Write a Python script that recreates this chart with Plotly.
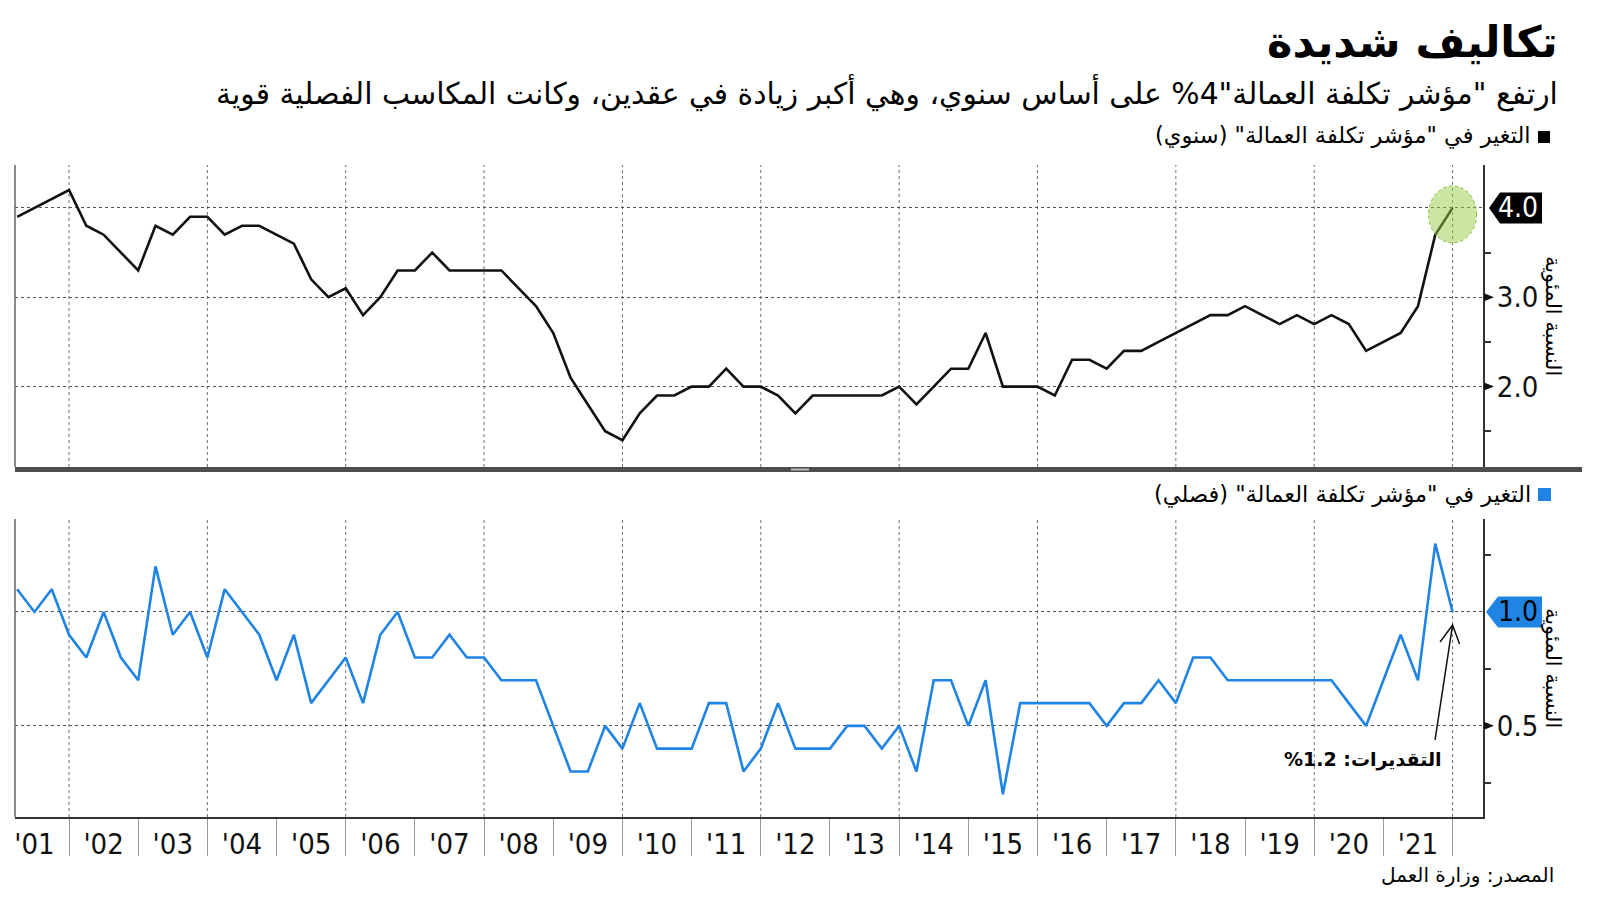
import plotly.graph_objects as go

# ---------------- data ----------------
quarters = [f"{y}Q{q}" for y in range(2001, 2022) for q in range(1, 5)]

annual = [
    3.9, 4.0, 4.1, 4.2,   # 2001
    3.8, 3.7, 3.5, 3.3,   # 2002
    3.8, 3.7, 3.9, 3.9,   # 2003
    3.7, 3.8, 3.8, 3.7,   # 2004
    3.6, 3.2, 3.0, 3.1,   # 2005
    2.8, 3.0, 3.3, 3.3,   # 2006
    3.5, 3.3, 3.3, 3.3,   # 2007
    3.3, 3.1, 2.9, 2.6,   # 2008
    2.1, 1.8, 1.5, 1.4,   # 2009
    1.7, 1.9, 1.9, 2.0,   # 2010
    2.0, 2.2, 2.0, 2.0,   # 2011
    1.9, 1.7, 1.9, 1.9,   # 2012
    1.9, 1.9, 1.9, 2.0,   # 2013
    1.8, 2.0, 2.2, 2.2,   # 2014
    2.6, 2.0, 2.0, 2.0,   # 2015
    1.9, 2.3, 2.3, 2.2,   # 2016
    2.4, 2.4, 2.5, 2.6,   # 2017
    2.7, 2.8, 2.8, 2.9,   # 2018
    2.8, 2.7, 2.8, 2.7,   # 2019
    2.8, 2.7, 2.4, 2.5,   # 2020
    2.6, 2.9, 3.7, 4.0,   # 2021
]

quarterly = [
    1.1, 1.0, 1.1, 0.9,   # 2001
    0.8, 1.0, 0.8, 0.7,   # 2002
    1.2, 0.9, 1.0, 0.8,   # 2003
    1.1, 1.0, 0.9, 0.7,   # 2004
    0.9, 0.6, 0.7, 0.8,   # 2005
    0.6, 0.9, 1.0, 0.8,   # 2006
    0.8, 0.9, 0.8, 0.8,   # 2007
    0.7, 0.7, 0.7, 0.5,   # 2008
    0.3, 0.3, 0.5, 0.4,   # 2009
    0.6, 0.4, 0.4, 0.4,   # 2010
    0.6, 0.6, 0.3, 0.4,   # 2011
    0.6, 0.4, 0.4, 0.4,   # 2012
    0.5, 0.5, 0.4, 0.5,   # 2013
    0.3, 0.7, 0.7, 0.5,   # 2014
    0.7, 0.2, 0.6, 0.6,   # 2015
    0.6, 0.6, 0.6, 0.5,   # 2016
    0.6, 0.6, 0.7, 0.6,   # 2017
    0.8, 0.8, 0.7, 0.7,   # 2018
    0.7, 0.7, 0.7, 0.7,   # 2019
    0.7, 0.6, 0.5, 0.7,   # 2020
    0.9, 0.7, 1.3, 1.0,   # 2021
]

year_labels = ["'01", "'02", "'03", "'04", "'05", "'06", "'07", "'08", "'09", "'10",
               "'11", "'12", "'13", "'14", "'15", "'16", "'17", "'18", "'19", "'20", "'21"]
label_years = list(range(2001, 2022))
top_ticks = [2.0, 3.0, 4.0]
top_ticktext = ["2.0", "3.0", ""]
bot_ticks = [0.5, 1.0]
bot_ticktext = ["0.5", ""]
last_annual_label = "4.0"
last_quarterly_label = "1.0"

title = "تكاليف شديدة"
subtitle = 'ارتفع "مؤشر تكلفة العمالة"4% على أساس سنوي، وهي أكبر زيادة في عقدين، وكانت المكاسب الفصلية قوية'
legend_annual = 'التغير في "مؤشر تكلفة العمالة" (سنوي)'
legend_quarterly = 'التغير في "مؤشر تكلفة العمالة" (فصلي)'
ytitle = "النسبة المئوية"
estimate_note = "التقديرات: 1.2%"
source = "المصدر: وزارة العمل"

# quarter-end positions on a fractional-year axis
xq = [int(q[:4]) + int(q[-1]) / 4 for q in quarters]

# ---------------- helpers ----------------
W, H = 1600, 901
OFF = 8  # page body margin
def px(x):
    return (x - OFF) / W
def py(y):
    return 1 - (y - OFF) / H
def rtl(s):
    return "\u202b" + s + "\u202c"

BLACK = "#111111"
BLUE = "#1f84e4"
AR = "DejaVu Sans"
NUM = "DejaVu Sans Condensed, DejaVu Sans"

AX_X = 1483  # right axis pixel

fig = go.Figure()
fig.add_trace(go.Scatter(x=xq, y=annual, mode="lines", xaxis="x2", yaxis="y2",
                         line=dict(color=BLACK, width=2.6), hoverinfo="skip"))
fig.add_trace(go.Scatter(x=xq, y=quarterly, mode="lines", xaxis="x", yaxis="y",
                         line=dict(color=BLUE, width=2.6), hoverinfo="skip"))

xrange = [2001.219, 2022.44]
xdom = [px(15), px(AX_X)]

fig.update_layout(
    width=W, height=H, margin=dict(l=0, r=0, t=0, b=0),
    paper_bgcolor="white", plot_bgcolor="white", showlegend=False,
    xaxis=dict(domain=xdom, range=xrange, anchor="y",
               tickmode="array", tickvals=[y + 0.5 for y in label_years], ticktext=year_labels,
               ticks="", showgrid=False, zeroline=False,
               showline=True, linecolor="#333333", linewidth=2,
               tickfont=dict(family=NUM, size=29, color=BLACK),
               minor=dict(tickmode="array", tickvals=label_years + [2022],
                          ticks="outside", ticklen=37, tickwidth=1, tickcolor="#9a9a9a",
                          showgrid=False)),
    xaxis2=dict(domain=xdom, range=xrange, anchor="y2", matches="x",
                showticklabels=False, ticks="", showgrid=False, zeroline=False, showline=False),
    yaxis=dict(domain=[py(817), py(519)], range=[0.10, 1.408], anchor="x", side="right",
               tickmode="array", tickvals=bot_ticks, ticktext=bot_ticktext, ticks="",
               ticklabelstandoff=6,
               showgrid=True, gridcolor="#555555", gridwidth=1, griddash="dot",
               zeroline=False, showline=True, linecolor="#333333", linewidth=2,
               tickfont=dict(family=NUM, size=29, color=BLACK),
               minor=dict(tickmode="array", tickvals=[0.25, 0.75, 1.25], ticks="outside",
                          ticklen=6, tickwidth=1.5, tickcolor="#333333", showgrid=False)),
    yaxis2=dict(domain=[py(467), py(165)], range=[1.10, 4.48], anchor="x2", side="right",
                tickmode="array", tickvals=top_ticks, ticktext=top_ticktext, ticks="",
                ticklabelstandoff=6,
                showgrid=True, gridcolor="#555555", gridwidth=1, griddash="dot",
                zeroline=False, showline=True, linecolor="#333333", linewidth=2,
                tickfont=dict(family=NUM, size=29, color=BLACK),
                minor=dict(tickmode="array", tickvals=[1.5, 2.5, 3.5], ticks="outside",
                           ticklen=6, tickwidth=1.5, tickcolor="#333333", showgrid=False)),
)

shapes = []
# vertical dashed gridlines every two years
for yr in range(2002, 2023, 2):
    for xr, yr_ref in (("x", "y domain"), ("x2", "y2 domain")):
        shapes.append(dict(type="line", xref=xr, yref=yr_ref, x0=yr, x1=yr, y0=0, y1=1,
                           line=dict(color="#707070", width=1, dash="3px,3px"), layer="below"))
# left axis lines
for yr_ref in ("y domain", "y2 domain"):
    shapes.append(dict(type="line", xref="paper", yref=yr_ref, x0=px(15), x1=px(15), y0=0, y1=1,
                       line=dict(color="#666666", width=1.5)))
# separator bar between panels
shapes.append(dict(type="rect", xref="paper", yref="paper", x0=px(15), x1=px(1582),
                   y0=py(472), y1=py(467), fillcolor="#4d4d4d", line=dict(width=0)))
shapes.append(dict(type="rect", xref="paper", yref="paper", x0=px(791), x1=px(809),
                   y0=py(470.5), y1=py(468.5), fillcolor="#bdbdbd", line=dict(width=0)))
# tick pointer triangles
for val, yref in ((2.0, "y2"), (3.0, "y2"), (0.5, "y")):
    shapes.append(dict(type="path", xref="paper", yref=yref, xsizemode="pixel", ysizemode="pixel",
                       xanchor=px(AX_X), yanchor=val, path="M 1,4 L 1,-4 L 11,0 Z",
                       fillcolor=BLACK, line=dict(width=0)))
# value flags
shapes.append(dict(type="path", xref="paper", yref="y2", xsizemode="pixel", ysizemode="pixel",
                   xanchor=px(AX_X), yanchor=annual[-1],
                   path="M 6,0 L 17,15.5 L 59,15.5 L 59,-15.5 L 17,-15.5 Z",
                   fillcolor="#000000", line=dict(width=0)))
shapes.append(dict(type="path", xref="paper", yref="y", xsizemode="pixel", ysizemode="pixel",
                   xanchor=px(AX_X), yanchor=quarterly[-1],
                   path="M 3,0 L 15,15.5 L 59,15.5 L 59,-15.5 L 15,-15.5 Z",
                   fillcolor=BLUE, line=dict(width=0)))
# highlight circle around the last annual value
shapes.append(dict(type="circle", xref="x2", yref="y2", xsizemode="pixel", ysizemode="pixel",
                   xanchor=xq[-1], yanchor=annual[-1], x0=-24, x1=24, y0=-35, y1=22,
                   fillcolor="rgba(150,205,70,0.5)",
                   line=dict(color="rgba(120,180,40,0.9)", width=1, dash="dot"), layer="above"))
# estimate arrow
shapes.append(dict(type="path", xref="x", yref="y", xsizemode="pixel", ysizemode="pixel",
                   xanchor=xq[-1], yanchor=quarterly[-1],
                   path="M -17.5,-128 L 0,-13 M -12.5,-30 L 0,-13 L 7,-32",
                   line=dict(color=BLACK, width=1.5)))
# legend squares
shapes.append(dict(type="rect", xref="paper", yref="paper", x0=px(1538), x1=px(1550),
                   y0=py(143), y1=py(131), fillcolor="#000000", line=dict(width=0)))
shapes.append(dict(type="rect", xref="paper", yref="paper", x0=px(1538), x1=px(1551),
                   y0=py(501), y1=py(488), fillcolor=BLUE, line=dict(width=0)))
fig.update_layout(shapes=shapes)

ann = []
ann.append(dict(text=rtl(title), x=px(1560), y=py(42), xref="paper", yref="paper",
                xanchor="right", yanchor="middle", showarrow=False,
                font=dict(family=AR, size=43, color="#000000", weight="bold")))
ann.append(dict(text=rtl(subtitle), x=px(1560), y=py(93), xref="paper", yref="paper",
                xanchor="right", yanchor="middle", showarrow=False,
                font=dict(family=AR, size=29.8, color="#000000")))
ann.append(dict(text=rtl(legend_annual), x=px(1533), y=py(136), xref="paper", yref="paper",
                xanchor="right", yanchor="middle", showarrow=False,
                font=dict(family=AR, size=22.5, color="#000000")))
ann.append(dict(text=rtl(legend_quarterly), x=px(1533), y=py(494), xref="paper", yref="paper",
                xanchor="right", yanchor="middle", showarrow=False,
                font=dict(family=AR, size=22.5, color="#000000")))
for yc in (316, 668):
    ann.append(dict(text=rtl(ytitle), x=px(1553), y=py(yc), xref="paper", yref="paper",
                    xanchor="center", yanchor="middle", showarrow=False, textangle=90,
                    font=dict(family=AR, size=21, color="#000000")))
ann.append(dict(text=last_annual_label, x=px(1518), y=annual[-1], xref="paper", yref="y2",
                xanchor="center", yanchor="middle", showarrow=False,
                font=dict(family=NUM, size=28, color="#ffffff")))
ann.append(dict(text=last_quarterly_label, x=px(1518), y=quarterly[-1], xref="paper", yref="y",
                xanchor="center", yanchor="middle", showarrow=False,
                font=dict(family=NUM, size=28, color="#000000")))
ann.append(dict(text=rtl(estimate_note), x=px(1363), y=py(759), xref="paper", yref="paper",
                xanchor="center", yanchor="middle", showarrow=False,
                font=dict(family=AR, size=19, color="#000000", weight="bold")))
ann.append(dict(text=rtl(source), x=px(1556), y=py(875), xref="paper", yref="paper",
                xanchor="right", yanchor="middle", showarrow=False,
                font=dict(family=AR, size=20, color="#000000")))
fig.update_layout(annotations=ann)

fig.write_html("out.html")
